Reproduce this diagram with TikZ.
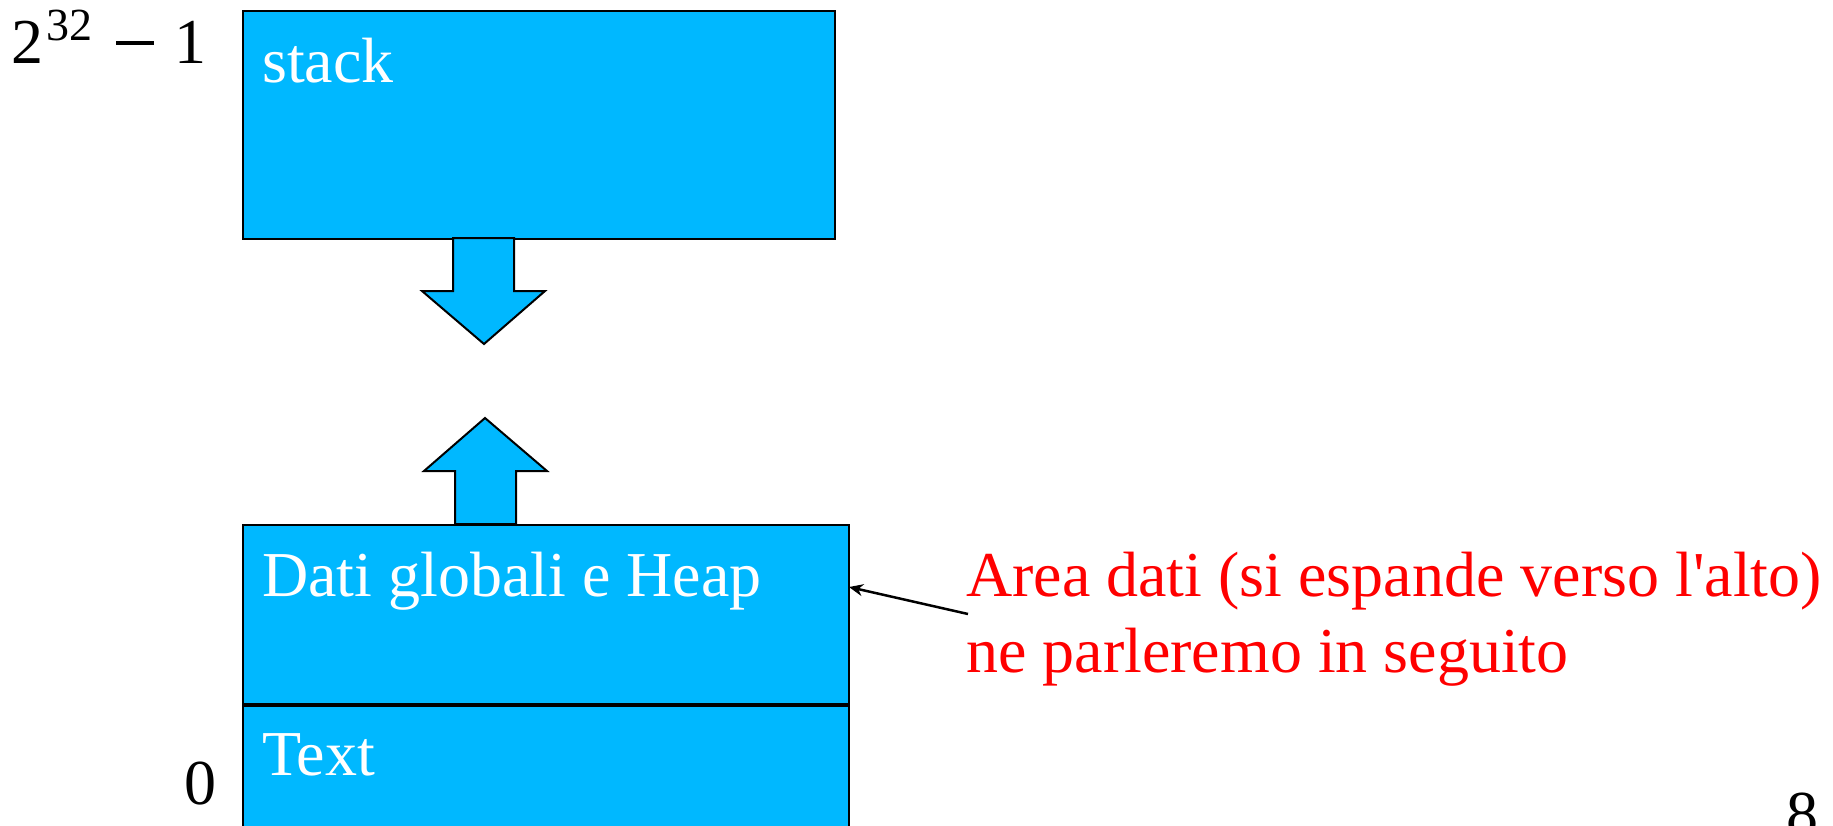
\documentclass[tikz,border=0pt]{standalone}
\usepackage{fontspec}
\setmainfont{Liberation Serif}
\usetikzlibrary{positioning,arrows.meta}
\definecolor{memblue}{RGB}{0,184,255}
\tikzset{
  memblock/.style={draw=black,fill=memblue,line width=2pt,inner sep=0pt,anchor=north west},
  memlabel/.style={anchor=base west,text=white,inner sep=0pt,font=\fontsize{64}{70}\selectfont},
  addr/.style={anchor=base west,inner sep=0pt,font=\fontsize{64}{70}\selectfont},
  fatarrow/.style={draw=black,fill=memblue,line width=2pt,line join=miter},
  note/.style={anchor=base west,inner sep=0pt,text=red,font=\fontsize{64}{70}\selectfont}
}
\begin{document}
\begin{tikzpicture}[x=1pt,y=-1pt]
	\useasboundingbox (0,0) rectangle (1833,825);
	\clip (0,0) rectangle (1833,825);
	% blocchi di memoria
	\node[memblock,minimum width=592,minimum height=228] (stackblk) at (242,10) {};
	\node[memblock,minimum width=606,minimum height=179] (datiblk) at (242,524) {};
	\node[memblock,minimum width=606,minimum height=140] (textblk) at (datiblk.south west) {};
	\node[memlabel] (stacklbl) at (262,82) {stack};
	\node[memlabel] (datilbl) at (262,596) {Dati globali e Heap};
	\node[memlabel] (textlbl) at (262,775) {Text};
	% indirizzi
	\node[addr] (hiaddr) at (11,63) {2\kern3pt\raisebox{23pt}{\fontsize{46}{46}\selectfont 32}\hspace{24pt}\rule[18pt]{38pt}{4pt}\hspace{20pt}1};
	\node[addr] (loaddr) at (184,804) {0};
	% frecce di crescita
	\draw[fatarrow] (453,238) -- (453,291) -- (422,291) -- (484,344) -- (545,291) -- (514,291) -- (514,238) -- cycle;
	\draw[fatarrow] (455,524) -- (455,471) -- (424,471) -- (485,418) -- (547,471) -- (516,471) -- (516,524) -- cycle;
	% nota
	\node[note] (note1) at (966,596) {Area dati (si espande verso l\textquotesingle alto)};
	\node[note] (note2) at (966,672) {ne parleremo in seguito};
	\coordinate (notetail) at (968,614);
	\coordinate (notetip) at (849,587);
	\draw[line width=2.5pt,-{Stealth[length=14pt,width=12pt]}] (notetail) -- (notetip);
	\node[addr] (pagenum) at (1786,835) {8};
\end{tikzpicture}
\end{document}
